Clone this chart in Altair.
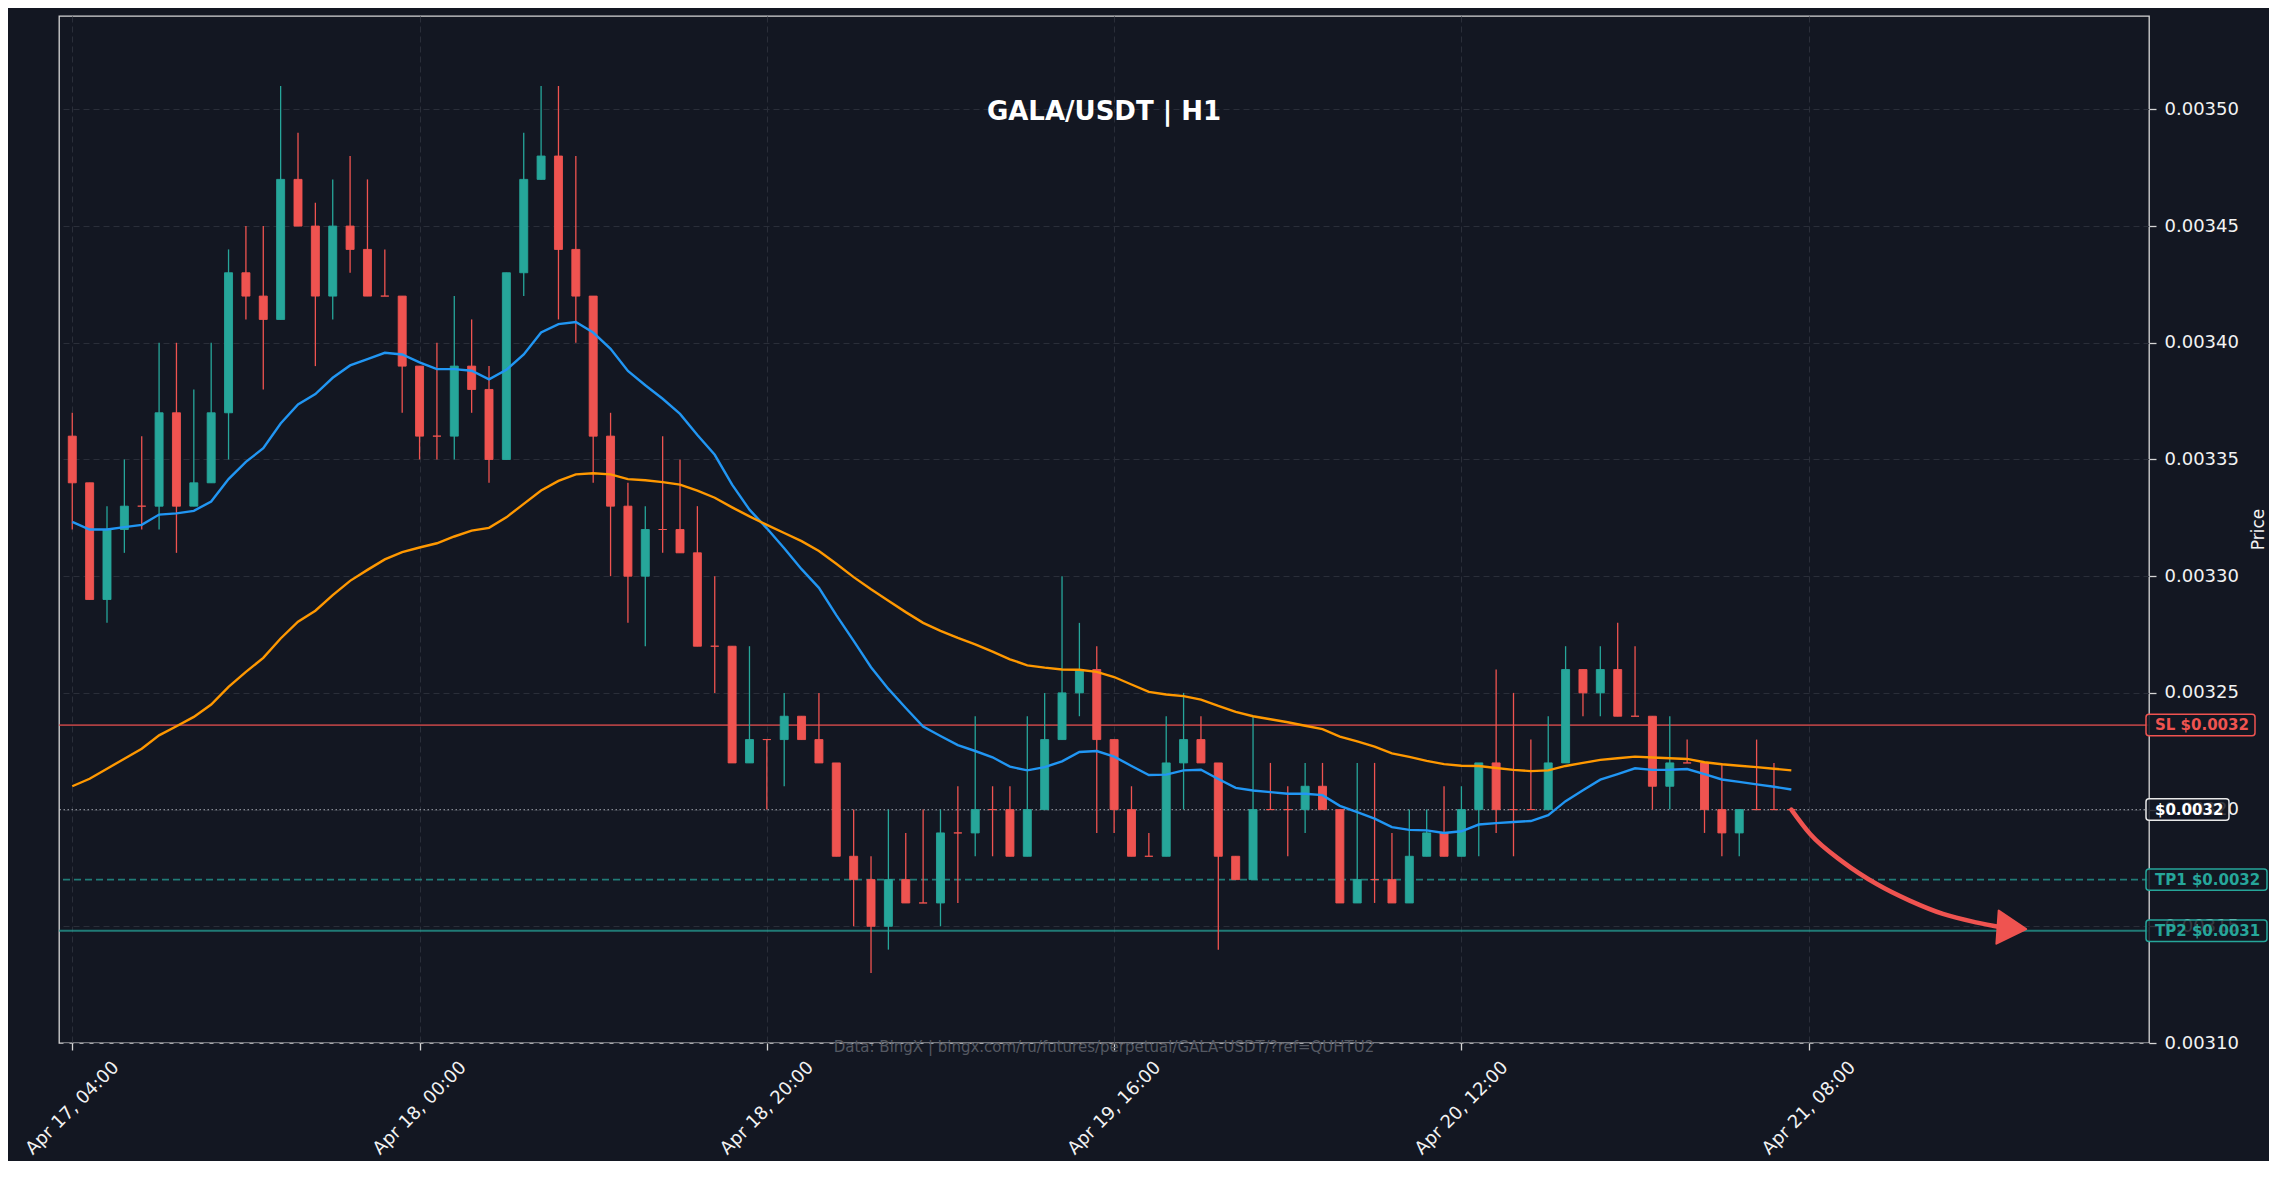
import altair as alt
import pandas as pd

# ---------------- data (prices in units of 0.00001 USDT) ----------------
TICK = 0.00001
START = "2025-04-17 04:00"

opens = [336,334,329,332,333,333,337,333,334,337, 343,342,341,347,345,342,345,344,342,342,
         339,336,336,339,338,335,343,347,348,344, 342,336,333,330,332,332,331,327,327,322,
         323,323,324,323,322,318,317,315,317,316, 316,319,319,320,320,318,320,323,325,326,
         323,320,318,318,322,323,322,318,317,320, 320,320,321,320,316,317,317,316,318,319,
         318,320,322,320,320,320,322,326,325,326, 324,324,321,322,322,320,319,320,320,320]
highs = [337,334,333,335,336,340,340,338,340,344, 345,345,351,349,346,347,348,347,344,342,
         339,340,342,341,339,343,349,351,351,348, 342,337,334,333,336,335,333,330,327,327,
         323,325,324,325,322,320,318,320,319,320, 320,321,324,321,321,324,325,330,328,327,
         323,321,319,324,325,324,322,318,324,322, 321,322,322,320,322,322,319,320,320,321,
         321,322,326,325,323,324,327,326,327,328, 327,324,324,323,322,322,320,323,322,320]
lows = [332,329,328,331,332,332,331,333,334,335, 341,338,341,345,339,341,343,342,342,337,
        335,335,335,337,334,335,342,347,341,340, 334,330,328,327,331,331,327,325,322,322,
        320,321,323,322,318,315,313,314,316,316, 315,316,318,318,318,318,320,323,324,319,
        319,318,318,318,320,322,314,317,317,320, 318,319,320,316,316,316,316,316,318,318,
        318,318,319,318,320,320,322,324,324,324, 324,320,320,322,319,318,318,320,320,320]
closes = [334,329,332,333,333,337,333,334,337,343, 342,341,347,345,342,345,344,342,342,339,
          336,336,339,338,335,343,347,348,344,342, 336,333,330,332,332,331,327,327,322,323,
          323,324,323,322,318,317,315,317,316,316, 319,319,320,320,318,320,323,325,326,323,
          320,318,318,322,323,322,318,317,320,320, 320,321,320,316,317,317,316,318,319,318,
          320,322,320,320,320,322,326,325,326,324, 324,321,322,322,320,319,320,320,320,320]

ma_fast = [332.33,332.0,332.0,332.1,332.2,332.64,332.69,332.8,333.2,334.16,
           334.9,335.48,336.54,337.36,337.8,338.5,339.03,339.3,339.57,339.5,
           339.16,338.87,338.87,338.8,338.43,338.84,339.5,340.44,340.8,340.89,
           340.44,339.74,338.79,338.18,337.6,336.95,336.05,335.2,333.92,332.85,
           332.05,331.2,330.3,329.5,328.33,327.23,326.1,325.17,324.35,323.56,
           323.15,322.76,322.51,322.24,321.84,321.68,321.82,322.07,322.47,322.51,
           322.27,321.87,321.48,321.5,321.68,321.71,321.31,320.93,320.82,320.75,
           320.68,320.68,320.62,320.16,319.89,319.61,319.25,319.13,319.11,319.0,
           319.07,319.36,319.42,319.47,319.51,319.76,320.36,320.83,321.28,321.52,
           321.77,321.7,321.71,321.74,321.52,321.29,321.19,321.08,320.98,320.86]
ma_slow = [321.0,321.32,321.75,322.18,322.61,323.18,323.57,323.97,324.5,325.26,
           325.9,326.5,327.33,328.05,328.52,329.19,329.8,330.27,330.72,331.03,
           331.23,331.41,331.7,331.95,332.07,332.52,333.1,333.67,334.08,334.36,
           334.41,334.36,334.16,334.11,334.03,333.92,333.67,333.36,332.95,332.56,
           332.2,331.85,331.5,331.08,330.53,329.96,329.44,328.95,328.46,328.0,
           327.66,327.36,327.08,326.77,326.44,326.18,326.08,326.0,325.99,325.9,
           325.68,325.36,325.04,324.93,324.86,324.71,324.44,324.19,324.0,323.87,
           323.74,323.59,323.45,323.13,322.92,322.7,322.41,322.26,322.09,321.95,
           321.88,321.87,321.78,321.7,321.65,321.68,321.87,322.0,322.13,322.2,
           322.27,322.23,322.2,322.17,322.03,321.94,321.88,321.82,321.75,321.68]

# trade levels
SL_PRICE = 0.0032362
CUR_PRICE = 0.00320
TP1_PRICE = 0.00317
TP2_PRICE = 0.0031481

badge_labels = ["SL $0.0032", "$0.0032", "TP1 $0.0032", "TP2 $0.0031"]
badge_prices = [SL_PRICE, CUR_PRICE, TP1_PRICE, TP2_PRICE]

# projection arrow: points read along the drawn curve, and its head
arrow_times = ["2025-04-21T07:00:00Z", "2025-04-21T08:05:00Z", "2025-04-21T10:00:00Z",
               "2025-04-21T11:55:00Z", "2025-04-21T13:49:00Z", "2025-04-21T15:44:00Z",
               "2025-04-21T17:38:00Z", "2025-04-21T19:10:00Z"]
arrow_prices = [0.0032000, 0.0031895, 0.0031774, 0.0031681,
                0.0031610, 0.0031553, 0.0031517, 0.0031495]
head_time = "2025-04-21T19:42:00Z"
head_price = 0.0031492

x_tick_times = ["2025-04-17 04:00", "2025-04-18 00:00", "2025-04-18 20:00",
                "2025-04-19 16:00", "2025-04-20 12:00", "2025-04-21 08:00"]
y_ticks = [0.00310, 0.00315, 0.00320, 0.00325, 0.00330, 0.00335, 0.00340, 0.00345, 0.00350]

TITLE = "GALA/USDT | H1"
SOURCE = "Data: BingX | bingx.com/ru/futures/perpetual/GALA-USDT/?ref=QUHTU2"

# ---------------- styling ----------------
W, H = 2090, 1027
BG = "#131722"
UP = "#26a69a"
DOWN = "#ef5350"
FRAME = "#d6d6d6"
GRID = "#2a2e39"
TXT = "#f2f2f2"
FONT = "DejaVu Sans"

times = pd.date_range(START, periods=len(opens), freq="h", tz="UTC")
df = pd.DataFrame({
    "t": [t.strftime("%Y-%m-%dT%H:%M:%SZ") for t in times],
    "open": [v * TICK for v in opens],
    "high": [v * TICK for v in highs],
    "low": [v * TICK for v in lows],
    "close": [v * TICK for v in closes],
    "ma_fast": [v * TICK for v in ma_fast],
    "ma_slow": [v * TICK for v in ma_slow],
})
df["dir"] = ["up" if c > o else "down" for o, c in zip(opens, closes)]


def dt(s):
    ts = pd.Timestamp(s)
    return alt.DateTime(year=ts.year, month=ts.month, date=ts.day,
                        hours=ts.hour, minutes=ts.minute, seconds=ts.second, utc=True)


x_scale = alt.Scale(type="utc", domain=[dt("2025-04-17 03:31:26"), dt("2025-04-22 03:18:36")])
y_scale = alt.Scale(domain=[0.00310, 0.00354], nice=False, zero=False)

x_axis = alt.Axis(values=[dt(s) for s in x_tick_times], format="%b %d, %H:%M",
                  labelAngle=315, labelAlign="center", labelBaseline="middle",
                  labelPadding=58, labelOverlap=False, labelFlush=False, labelBound=False,
                  labelFontSize=18, labelColor=TXT, tickSize=7, tickColor=FRAME, tickWidth=1.3,
                  domain=False, grid=True, gridColor=GRID, gridDash=[6, 4], gridWidth=1, title=None)
y_axis = alt.Axis(orient="right", values=y_ticks, format=".5f", labelFontSize=18, labelColor=TXT,
                  labelPadding=8, tickSize=7, tickColor=FRAME, tickWidth=1.3, domain=False,
                  grid=True, gridColor=GRID, gridDash=[6, 4], gridWidth=1,
                  title="Price", titleFontSize=17, titleFontWeight="normal", titleColor=TXT,
                  titleAngle=270, titleX=109, titleY=513, titleAlign="center", titleBaseline="middle")

X = alt.X("t:T", scale=x_scale, axis=x_axis)
dir_scale = alt.Scale(domain=["up", "down"], range=[UP, DOWN])
color_dir = alt.Color("dir:N", scale=dir_scale, legend=None)

base = alt.Chart(df)


def level(price, **kw):
    return alt.Chart(pd.DataFrame({"p": [price]})).mark_rule(**kw).encode(
        y=alt.Y("p:Q", scale=y_scale, axis=y_axis))


sl_line = level(SL_PRICE, color=DOWN, opacity=0.7, strokeWidth=1.6)
cur_line = level(CUR_PRICE, color="#d1d4dc", opacity=0.6, strokeWidth=1.2, strokeDash=[1.5, 2.5])
tp1_line = level(TP1_PRICE, color=UP, opacity=0.7, strokeWidth=1.6, strokeDash=[7, 4])
tp2_line = level(TP2_PRICE, color=UP, opacity=0.7, strokeWidth=1.8)

wicks = base.mark_rule(strokeWidth=1.3).encode(
    x=X, y=alt.Y("low:Q", scale=y_scale, axis=y_axis), y2="high:Q", color=color_dir)
bodies = base.mark_bar(width=8, strokeWidth=0.9).encode(
    x=X, y=alt.Y("open:Q", scale=y_scale, axis=y_axis), y2="close:Q", color=color_dir,
    stroke=alt.Stroke("dir:N", scale=dir_scale, legend=None))

fast = base.mark_line(color="#2196f3", strokeWidth=2.4).encode(
    x=X, y=alt.Y("ma_fast:Q", scale=y_scale, axis=y_axis))
slow = base.mark_line(color="#ff9800", strokeWidth=2.4).encode(
    x=X, y=alt.Y("ma_slow:Q", scale=y_scale, axis=y_axis))

arrow_df = pd.DataFrame({"t": arrow_times, "p": arrow_prices, "o": list(range(len(arrow_times)))})
arrow = alt.Chart(arrow_df).mark_line(color=DOWN, strokeWidth=4.5, interpolate="monotone",
                                      strokeCap="round").encode(
    x=alt.X("t:T", scale=x_scale, axis=x_axis), y=alt.Y("p:Q", scale=y_scale, axis=y_axis),
    order="o:Q")
head = alt.Chart(pd.DataFrame({"t": [head_time], "p": [head_price]})).mark_point(
    shape="triangle-right", filled=True, size=1100, angle=4, color=DOWN, opacity=1,
    stroke=DOWN, strokeWidth=2, strokeJoin="round").encode(
    x=alt.X("t:T", scale=x_scale, axis=x_axis), y=alt.Y("p:Q", scale=y_scale, axis=y_axis))

# badges on the price axis
BADGE_HALF = 0.0000046
badge_colors = [DOWN, "#e8e8e8", UP, UP]
badge_text_colors = [DOWN, "#ffffff", UP, UP]
badge_x1 = [2196, 2170, 2208, 2208]
badge_layers = []
for lab, pr, colr, tcol, x1 in zip(badge_labels, badge_prices, badge_colors, badge_text_colors, badge_x1):
    bdf = pd.DataFrame({"lo": [pr - BADGE_HALF], "hi": [pr + BADGE_HALF], "p": [pr], "label": [lab]})
    box = alt.Chart(bdf).mark_rect(fill=BG, fillOpacity=0.85, stroke=colr, strokeWidth=1.5,
                                   cornerRadius=3).encode(
        x=alt.value(2087), x2=alt.value(x1),
        y=alt.Y("lo:Q", scale=y_scale, axis=y_axis), y2="hi:Q")
    txt = alt.Chart(bdf).mark_text(align="left", baseline="middle", font=FONT, fontWeight="bold",
                                   fontSize=15, color=tcol).encode(
        x=alt.value(2096), y=alt.Y("p:Q", scale=y_scale, axis=y_axis), text="label:N")
    badge_layers += [box, txt]

title = alt.Chart(pd.DataFrame({"s": [TITLE]})).mark_text(
    font=FONT, fontSize=26, fontWeight="bold", color="#ffffff", align="center",
    baseline="alphabetic").encode(x=alt.value(W / 2), y=alt.value(103.5), text="s:N")
source = alt.Chart(pd.DataFrame({"s": [SOURCE]})).mark_text(
    font=FONT, fontSize=15, color="#555962", align="center",
    baseline="alphabetic").encode(x=alt.value(W / 2), y=alt.value(1035.5), text="s:N")

chart = alt.layer(
    sl_line, cur_line, tp1_line, tp2_line,
    wicks, bodies, fast, slow, arrow, head,
    *badge_layers, title, source
).properties(
    width=W, height=H,
    autosize=alt.AutoSizeParams(type="none"),
    padding={"left": 51, "top": 8, "right": 120, "bottom": 118},
    background=BG,
).configure_view(
    stroke=FRAME, strokeWidth=1.3, fill=BG
).configure_axis(
    labelFont=FONT, titleFont=FONT
)

chart.save("out.html", embed_options={"renderer": "svg", "actions": False})
